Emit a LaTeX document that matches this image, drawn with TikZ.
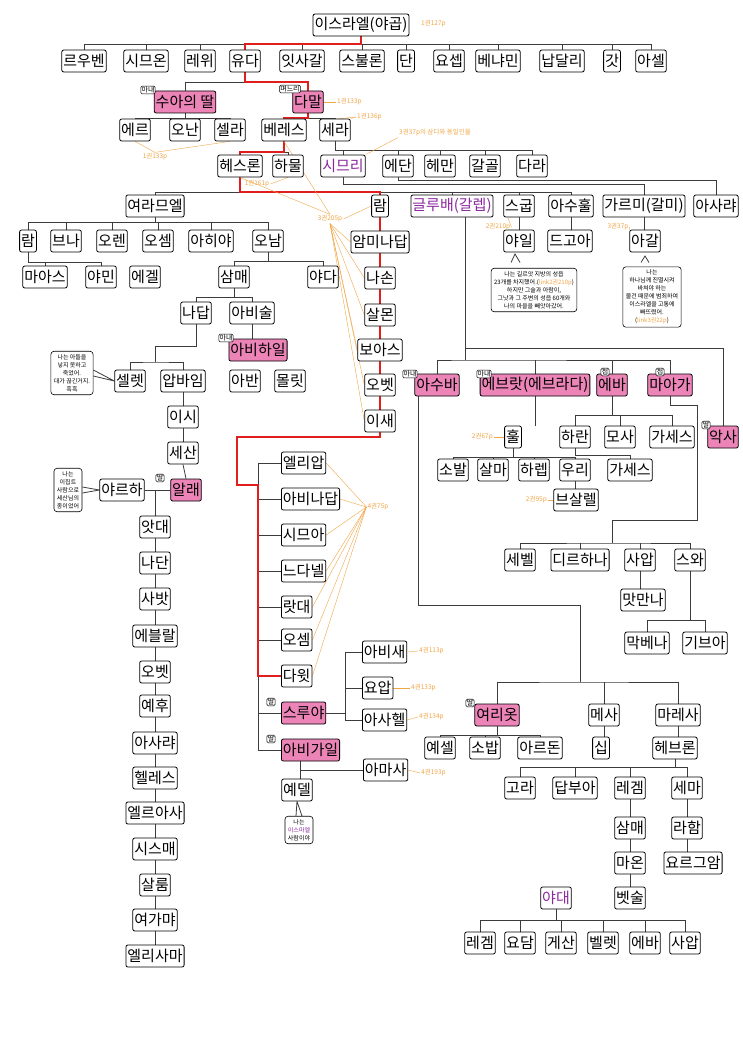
\documentclass[tikz,border=0pt]{standalone}
\usepackage{fontspec}
\setmainfont{Noto Sans CJK KR}
\newfontfamily\kr{Noto Sans CJK KR}
\definecolor{pk}{RGB}{236,132,184}
\definecolor{pu}{RGB}{140,40,160}
\definecolor{orn}{RGB}{240,165,70}
\definecolor{rd}{RGB}{225,30,30}
\definecolor{lnc}{RGB}{60,60,60}
\pgfdeclarelayer{bg}\pgfsetlayers{bg,main}
\tikzset{
 nm/.style={draw=black,line width=0.8pt,rounded corners=2pt,fill=white,inner sep=1.5pt,minimum height=22pt,font=\fontsize{15}{15}\selectfont},
 pnm/.style={nm,fill=pk},
 tag/.style={draw=black,line width=0.5pt,rounded corners=1.5pt,fill=white,inner sep=0.8pt,font=\fontsize{7}{7}\selectfont},
 lab/.style={text=orn,font=\fontsize{6.5}{7}\selectfont,inner sep=1pt},
 bub/.style={draw=black,line width=0.6pt,rounded corners=3pt,fill=white,align=center,inner sep=3pt,font=\fontsize{6}{8}\selectfont},
 ln/.style={draw=lnc,line width=0.8pt},
 rl/.style={draw=rd,line width=1.1pt},
 ol/.style={draw=orn,line width=0.4pt}
}
\newcommand\fambar[3]{\draw[ln] (#1.south) -- (#1.south |- 0,#2);
 \foreach \c in {#3}{\draw[ln] (#1.south |- 0,#2) -| (\c.north);}}
\newcommand\down[2]{\draw[ln] (#1.south) -- (#1.south |- #2.north);}
\begin{document}
\begin{tikzpicture}[x=1pt,y=-1pt]
\useasboundingbox (0,0) rectangle (743,1054);
% top
\node[nm] (isr) at (361,25) {이스라엘(야곱)};
\node[lab,anchor=west] (l127) at (420,24) {1권127p};
\foreach \id/\x/\t in {ruben/84/르우벤,simeon/146/시므온,levi/200/레위,judah/245/유다,issachar/302/잇사갈,zebulun/362/스불론,dan/406/단,joseph/449/요셉,benjamin/498/베냐민,naphtali/562/납달리,gad/612/갓,asher/651/아셀}
  {\node[nm] (\id) at (\x,61) {\t};}
\node[pnm] (shua) at (185,102) {수아의 딸};
\node[tag] at (148,90) {아내};
\node[pnm] (tamar) at (308,102) {다말};
\node[tag] at (290,89) {며느리};
\node[lab,anchor=west] (l133a) at (336,102) {1권133p};
\node[nm] (er) at (135,130) {에르};
\node[nm] (onan) at (185,130) {오난};
\node[nm] (shelah) at (230,130) {셀라};
\node[nm] (perez) at (284,130) {베레스};
\node[nm] (zerah) at (335,130) {세라};
\node[lab,anchor=west] (l136) at (356,117) {1권136p};
\node[lab] (l133b) at (155,157) {1권133p};
\node[lab,anchor=west] (l37z) at (398,133) {3권37p의 삼디와 동일인물};
\node[nm] (hezron) at (240,166) {헤스론};
\node[nm] (hamul) at (288,166) {하물};
\node[nm,text=pu] (zimri) at (343,166) {시므리};
\node[nm] (ethan) at (398,166) {에단};
\node[nm] (heman) at (440,166) {헤만};
\node[nm] (calcol) at (485,166) {갈골};
\node[nm] (dara) at (532,166) {다라};
\node[lab] (l161) at (257,184) {1권161p};
% row 206
\node[nm] (jerahmeel) at (155,206) {여라므엘};
\node[nm] (ram) at (380,206) {람};
\node[nm,text=pu] (caleb) at (452,206) {글루배(갈렙)};
\node[nm] (segub) at (519,206) {스굽};
\node[nm] (ashhur) at (571,206) {아수훌};
\node[nm] (karmi) at (644,206) {가르미(갈미)};
\node[nm] (azariah) at (716,206) {아사랴};
\node[lab] (l205) at (330,219) {3권205p};
\foreach \id/\x/\t in {ramb/28/람,bunah/66/브나,oren/112/오렌,ozem/158/오셈,ahijah/211/아히야,onam/268/오남}
  {\node[nm] (\id) at (\x,241) {\t};}
\node[nm] (maaz) at (45,277) {마아스};
\node[nm] (jamin) at (101,277) {야민};
\node[nm] (eker) at (145,277) {에겔};
\node[nm] (shammai) at (234,277) {삼매};
\node[nm] (jada) at (323,277) {야다};
\node[nm] (nadab) at (196,313) {나답};
\node[nm] (abishur) at (252,313) {아비술};
\node[pnm] (abihail) at (258,350) {아비하일};
\node[tag] at (226,338) {아내};
\node[nm] (ahban) at (245,381) {아반};
\node[nm] (molid) at (290,381) {몰릿};
\node[nm] (seled) at (130,381) {셀렛};
\node[nm] (appaim) at (183,381) {압바임};
\node[bub] (b1) at (72,373) {나는 아들을\\낳지 못하고\\죽었어.\\대가 끊긴거지.\\흑흑};
\node[nm] (ishi) at (183,417) {이시};
\node[nm] (sheshan) at (183,453) {세산};
\node[pnm] (ahlai) at (186,490) {알래};
\node[tag] at (160,478) {딸};
\node[nm] (jarha) at (122,490) {야르하};
\node[bub] (b2) at (68,490) {나는\\이집트\\사람으로\\세산님의\\종이었어};
\foreach \id/\y/\t in {attai/527/앗대,nathan/563/나단,zabad/599/사밧,ephlal/636/에블랄,obedb/672/오벳,jehu/706/예후,azariahb/743/아사랴,helez/778/헬레스,eleasah/813/엘르아사,sismai/849/시스매,shallum/885/살룸,jekamiah/920/여가먀,elishama/956/엘리사마}
  {\node[nm] (\id) at (155,\y) {\t};}
% ram line
\foreach \id/\y/\t in {amminadab/242/암미나답,nahshon/278/나손,salmon/315/살몬,boaz/350/보아스,obed/385/오벳,jesse/421/이새}
  {\node[nm] (\id) at (380,\y) {\t};}
\foreach \id/\y/\t in {eliab/463/엘리압,abinadab/499/아비나답,shimea/535/시므아,nethanel/571/느다넬,raddai/607/랏대,ozemb/640/오셈,david/676/다윗}
  {\node[nm,anchor=west] (\id) at (281,\y) {\t};}
\node[pnm,anchor=west] (zeruiah) at (281,713) {스루야};
\node[tag] at (271,702) {딸};
\node[pnm,anchor=west] (abigail) at (281,750) {아비가일};
\node[tag] at (271,739) {딸};
\node[lab] (l75) at (378,507) {4권75p};
\node[nm,anchor=west] (abishai) at (362,652) {아비새};
\node[nm,anchor=west] (joab) at (362,688) {요압};
\node[nm,anchor=west] (asahel) at (362,720) {아사헬};
\node[lab,anchor=west] (l113) at (418,651) {4권113p};
\node[lab,anchor=west] (l133c) at (410,688) {4권133p};
\node[lab,anchor=west] (l134) at (418,717) {4권134p};
\node[nm,anchor=west] (amasa) at (363,770) {아마사};
\node[lab,anchor=west] (l193) at (420,773) {4권193p};
\node[nm] (jether) at (297,790) {예델};
\node[bub] (b3) at (299,830) {나는\\\textcolor{pu}{이스마엘}\\사람이야};
% right top
\node[nm] (jair) at (519,241) {야일};
\node[nm] (tekoa) at (570,241) {드고아};
\node[nm] (achar) at (645,241) {아갈};
\node[lab] (l210) at (498,227) {2권210p};
\node[lab] (l37) at (618,227) {3권37p};
\node[bub] (b4) at (534,290) {나는 길르앗 지방의 성읍\\23개를 차지했어.(\textcolor{orn}{link2권210p})\\하지만 그술과 아람이,\\그낫과 그 주변의 성읍 60개와\\나의 마을을 빼앗아갔어.};
\node[bub] (b5) at (652,297) {나는\\하나님께 진멸시켜\\바쳐야 하는\\물건 때문에 범죄하여\\이스라엘을 고통에\\빠뜨렸어.\\(\textcolor{orn}{link3권22p})};
\node[pnm] (azubah) at (437,385) {아수바};
\node[tag] at (410,374) {아내};
\node[pnm] (ephrath) at (535,385) {에브랏(에브라다)};
\node[tag] at (484,374) {아내};
\node[pnm] (ephah) at (612,385) {에바};
\node[tag] at (605,372) {첩};
\node[pnm] (maacah) at (670,385) {마아가};
\node[tag] at (660,372) {첩};
\node[pnm] (aksah) at (723,437) {악사};
\node[tag] at (706,425) {딸};
\node[nm] (hur) at (513,437) {훌};
\node[lab,anchor=east] (l67) at (494,437) {2권67p};
\node[nm] (haran) at (575,437) {하란};
\node[nm] (moza) at (620,437) {모사};
\node[nm] (gazez) at (672,437) {가세스};
\node[nm] (sobal) at (453,470) {소발};
\node[nm] (salma) at (493,470) {살마};
\node[nm] (hareph) at (534,470) {하렙};
\node[nm] (uri) at (575,470) {우리};
\node[nm] (gazezb) at (630,470) {가세스};
\node[nm] (bezalel) at (576,500) {브살렐};
\node[lab,anchor=east] (l95) at (548,500) {2권95p};
\node[nm] (sheber) at (520,560) {세벨};
\node[nm] (tirhanah) at (580,560) {디르하나};
\node[nm] (shaaph) at (640,560) {사압};
\node[nm] (sheva) at (690,560) {스와};
\node[nm] (madmannah) at (643,600) {맛만나};
\node[nm] (machbenah) at (647,643) {막베나};
\node[nm] (gibea) at (705,643) {기브아};
\node[pnm] (jerioth) at (497,715) {여리옷};
\node[tag] at (470,703) {딸};
\node[nm] (mesha) at (604,715) {메사};
\node[nm] (mareshah) at (678,715) {마레사};
\node[nm] (jesher) at (440,748) {예셀};
\node[nm] (shobab) at (485,748) {소밥};
\node[nm] (ardon) at (540,748) {아르돈};
\node[nm] (ziph) at (601,748) {십};
\node[nm] (hebron) at (675,748) {헤브론};
\node[nm] (korah) at (520,788) {고라};
\node[nm] (tappuah) at (575,788) {답부아};
\node[nm] (rekem) at (630,788) {레겜};
\node[nm] (shema) at (687,788) {세마};
\node[nm] (shammaib) at (630,828) {삼매};
\node[nm] (maon) at (630,863) {마온};
\node[nm] (bethzur) at (630,898) {벳술};
\node[nm] (raham) at (687,828) {라함};
\node[nm] (jorkeam) at (693,863) {요르그암};
\node[nm,text=pu] (jahdai) at (556,898) {야대};
\foreach \id/\x/\t in {regem/480/레겜,jotham/520/요담,geshan/561/게산,pelet/603/벨렛,ephahb/645/에바,shaaphb/685/사압}
  {\node[nm] (\id) at (\x,943) {\t};}
% ---------- connectors
\begin{pgfonlayer}{bg}
\fambar{isr}{44}{ruben,simeon,levi,judah,issachar,zebulun,dan,joseph,benjamin,naphtali,gad,asher}
\fambar{judah}{82}{shua,tamar}
\fambar{shua}{118}{er,onan,shelah}
\fambar{tamar}{118}{perez,zerah}
\fambar{perez}{152}{hezron,hamul}
\fambar{zerah}{150}{zimri,ethan,heman,calcol,dara}
\draw[ln] (zimri.south) -- (zimri.south |- 0,184) -| (karmi.north);
\draw[ln] (ethan.south) -- (ethan.south |- 0,180) -| (azariah.north);
\fambar{hezron}{192}{jerahmeel,ram,caleb,segub,ashhur}
\fambar{jerahmeel}{222}{ramb,bunah,oren,ozem,ahijah,onam}
\fambar{ramb}{262}{maaz,jamin}
\fambar{onam}{261}{shammai,jada}
\fambar{shammai}{297}{nadab,abishur}
\down{abishur}{abihail}
\coordinate (nd1) at (155,346);
\draw[ln] (nadab.south) -- (nadab.south |- nd1) -- (nd1) -- (155,362);
\draw[ln] (seled.north) |- (155,362) -| (appaim.north);
\down{appaim}{ishi}\down{ishi}{sheshan}\draw[ln] (sheshan.south) -- (ahlai.north);
\draw[ln] (jarha.east) -- (ahlai.west);
\coordinate (jx) at (155,490);
\draw[ln] (jx) -- (jx |- elishama.north);
\draw[ln,fill=white] ([yshift=3]b1.east) -- (seled.west) -- ([yshift=-3]b1.east);
\draw[ln,fill=white] ([yshift=3]b2.east) -- (jarha.west) -- ([yshift=-3]b2.east);
% ram line
\draw[ln] (ram.south) -- (jesse.north);
\coordinate (dv) at (258,463);
\draw[ln] (dv) -- (258,750);
\foreach \c in {eliab,abinadab,shimea,nethanel,raddai,ozemb,david,zeruiah,abigail}{\draw[ln] (\c.west) -- (\c.west -| dv);}
\coordinate (zr) at (345,713);
\draw[ln] (zeruiah.east) -- (zr);
\draw[ln] (345,652) -- (345,720);
\foreach \c in {abishai,joab,asahel}{\draw[ln] (\c.west) -- (\c.west -| zr);}
\coordinate (ab) at (300,770);
\draw[ln] (ab |- abigail.south) -- (ab |- jether.north);
\draw[ln] (ab) -- (amasa.west);
\draw[ln,fill=white] ([xshift=-3]b3.north) -- (jether.south) -- ([xshift=3]b3.north);
% right
\down{segub}{jair}\down{ashhur}{tekoa}\down{karmi}{achar}
\draw[ln,fill=white] (511,262.5) -- (515,254) -- (520,262.5);
\draw[ln,fill=white] (641,262.5) -- (645,256) -- (649,262.5);
\coordinate (cb) at (465,217);
\draw[ln] (cb) -- (465,360);
\draw[ln] (465,348) -| (aksah.north);
\draw[ln] (azubah.north) |- (465,360) -| (maacah.north);
\draw[ln] (ephrath.north) -- (ephrath.north |- 0,360);
\draw[ln] (ephah.north) -- (ephah.north |- 0,360);
\down{ephrath}{hur}
\fambar{hur}{457}{sobal,salma,hareph,uri}
\down{uri}{bezalel}
\fambar{ephah}{415}{haran,moza,gazez}
\draw[ln] (haran.south) |- (630,455) -- (gazezb.north);
\draw[ln] (maacah.south) -- (670,405) -- (697,405) -- (697,520) -- (612,520) -- (612,543);
\draw[ln] (sheber.north) |- (612,543) -| (sheva.north);
\draw[ln] (tirhanah.north) -- (tirhanah.north |- 0,543);
\draw[ln] (shaaph.north) -- (shaaph.north |- 0,543);
\down{shaaph}{madmannah}
\fambar{sheva}{620}{machbenah,gibea}
\draw[ln] (418,396) -- (418,605) -- (580,605) -- (580,682);
\draw[ln] (jerioth.north) |- (580,682) -| (mareshah.north);
\draw[ln] (mesha.north) -- (mesha.north |- 0,682);
\fambar{jerioth}{735}{jesher,shobab,ardon}
\down{mesha}{ziph}\down{mareshah}{hebron}
\fambar{hebron}{767}{korah,tappuah,rekem,shema}
\down{rekem}{shammaib}\down{shammaib}{maon}\down{maon}{bethzur}
\down{shema}{raham}\down{raham}{jorkeam}
\fambar{jahdai}{920}{regem,jotham,geshan,pelet,ephahb,shaaphb}
% red lineage
\draw[rl] (isr.south) -- (isr.south |- 0,44) -| (judah.north);
\draw[rl] (judah.south) -- (judah.south |- 0,82) -| (tamar.north);
\draw[rl] (tamar.south) -- (tamar.south |- 0,118) -| (perez.north);
\draw[rl] (perez.south) -- (perez.south |- 0,152) -| (hezron.north);
\draw[rl] (hezron.south) -- (hezron.south |- 0,192) -| (ram.north);
\draw[rl] (ram.south) -- (jesse.north);
\draw[rl] (jesse.south) -- (380,437) -- (237,437) -- (237,485) -- (258,485) -- (258,676) -- (david.west);
% orange reference lines
\draw[ol] (l133a.west) -- (tamar.east);
\draw[ol] (l136.west) -- (318,121); \draw[ol] (l136.west) -- (zerah.north east);
\draw[ol] (l133b.north) -- (er.south); \draw[ol] (l133b.north) -- (shelah.south);
\draw[ol] (l37z.south west) -- (zimri.north east);
\draw[ol] (l161.east) -- (hamul.south);
\foreach \c in {hezron,perez}{\draw[ol] (l205.north) -- (\c.south);}
\draw[ol] (l205.east) -- (ram.west);
\foreach \c in {amminadab,nahshon,salmon,boaz,obed,jesse}{\draw[ol] (l205.south) -- (\c.west);}
\foreach \c in {eliab,abinadab,shimea,nethanel,raddai,ozemb,david}{\draw[ol] (l75.west) -- (\c.east);}
\draw[ol] (l113.west) -- (abishai.east);
\draw[ol] (l133c.west) -- (joab.east);
\draw[ol] (l134.west) -- (asahel.east);
\draw[ol] (l193.west) -- (amasa.east);
\draw[ol] (l210.east) -- (508,218);
\draw[ol] (l37.east) -- (achar.north west);
\draw[ol] (l67.east) -- (hur.west);
\draw[ol] (l95.east) -- (bezalel.west);
\end{pgfonlayer}
\end{tikzpicture}
\end{document}
